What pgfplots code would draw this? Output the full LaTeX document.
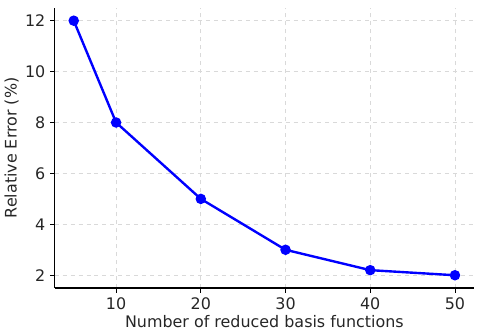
\documentclass[border=0pt]{standalone}
\usepackage{fontspec}
\setmainfont{DejaVu Sans}
\usepackage{pgfplots}
\pgfplotsset{compat=1.18}
\definecolor{tickgray}{HTML}{262626}

\begin{document}
\begin{tikzpicture}
\begin{axis}[
  scale only axis,
  width=316pt, height=211pt,
  xmin=2.75, xmax=52.25,
  ymin=1.5, ymax=12.5,
  xtick={10,20,30,40,50},
  ytick={2,4,6,8,10,12},
  axis x line*=bottom,
  axis y line*=left,
  axis line style={-, black, line width=0.8pt},
  tick align=outside,
  major tick length=3.5pt,
  tick style={black, line width=0.6pt},
  grid=major,
  grid style={dashed, gray!30, line width=0.5pt},
  xlabel={Number of reduced basis functions},
  ylabel={Relative Error (\%)},
  xlabel style={yshift=2pt},
  ylabel style={yshift=-2pt},
  tick label style={font=\fontsize{12}{14}\selectfont, text=tickgray},
  label style={font=\fontsize{12}{14}\selectfont, text=tickgray},
  /pgf/number format/assume math mode=true,
  clip=false,
]
\addplot[blue, line width=1.8pt, mark=*, mark size=3pt, mark options={solid, fill=blue}]
  coordinates {(5,12) (10,8) (20,5) (30,3) (40,2.2) (50,2)};
\end{axis}
\path ([shift={(4.5pt,6pt)}]current axis.north east);
\end{tikzpicture}
\end{document}
